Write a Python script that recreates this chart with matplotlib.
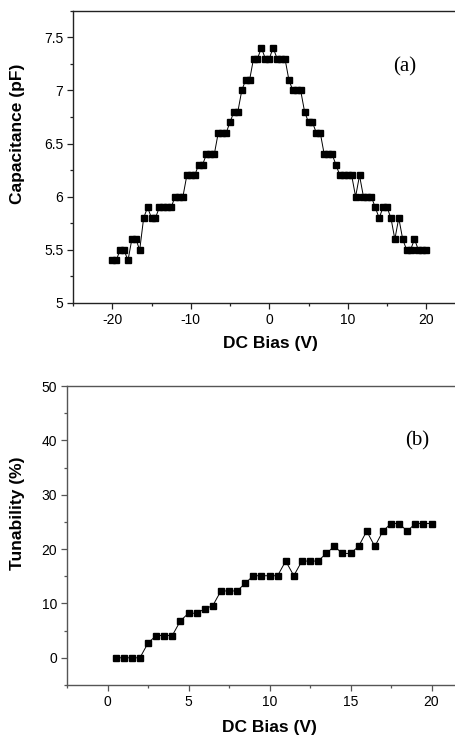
import matplotlib
matplotlib.use("Agg")
import matplotlib.pyplot as plt
from matplotlib.ticker import MultipleLocator

bias_a = [-20, -19.5, -19, -18.5, -18, -17.5, -17, -16.5, -16, -15.5, -15, -14.5,
          -14, -13.5, -13, -12.5, -12, -11.5, -11, -10.5, -10, -9.5, -9, -8.5,
          -8, -7.5, -7, -6.5, -6, -5.5, -5, -4.5, -4, -3.5, -3, -2.5, -2, -1.5,
          -1, -0.5, 0, 0.5, 1, 1.5, 2, 2.5, 3, 3.5, 4, 4.5, 5, 5.5, 6, 6.5,
          7, 7.5, 8, 8.5, 9, 9.5, 10, 10.5, 11, 11.5, 12, 12.5, 13, 13.5, 14,
          14.5, 15, 15.5, 16, 16.5, 17, 17.5, 18, 18.5, 19, 19.5, 20]
capacitance = [5.4, 5.4, 5.5, 5.5, 5.4, 5.6, 5.6, 5.5, 5.8, 5.9, 5.8, 5.8,
               5.9, 5.9, 5.9, 5.9, 6.0, 6.0, 6.0, 6.2, 6.2, 6.2, 6.3, 6.3,
               6.4, 6.4, 6.4, 6.6, 6.6, 6.6, 6.7, 6.8, 6.8, 7.0, 7.1, 7.1, 7.3, 7.3,
               7.4, 7.3, 7.3, 7.4, 7.3, 7.3, 7.3, 7.1, 7.0, 7.0, 7.0, 6.8, 6.7, 6.7, 6.6, 6.6,
               6.4, 6.4, 6.4, 6.3, 6.2, 6.2, 6.2, 6.2, 6.0, 6.2, 6.0, 6.0, 6.0, 5.9, 5.8,
               5.9, 5.9, 5.8, 5.6, 5.8, 5.6, 5.5, 5.5, 5.6, 5.5, 5.5, 5.5]

bias_b = [0.5, 1, 1.5, 2, 2.5, 3, 3.5, 4, 4.5, 5, 5.5, 6, 6.5, 7, 7.5, 8, 8.5,
          9, 9.5, 10, 10.5, 11, 11.5, 12, 12.5, 13, 13.5, 14, 14.5, 15, 15.5,
          16, 16.5, 17, 17.5, 18, 18.5, 19, 19.5, 20]
tunability = [0, 0, 0, 0, 2.7, 4.1, 4.1, 4.1, 6.8, 8.2, 8.2, 9.0, 9.6, 12.3, 12.3, 12.3, 13.7,
              15.1, 15.1, 15.1, 15.1, 17.8, 15.1, 17.8, 17.8, 17.8, 19.2, 20.5, 19.2, 19.2, 20.5,
              23.3, 20.5, 23.3, 24.7, 24.7, 23.3, 24.7, 24.7, 24.7]

plt.rcParams['font.family'] = ['Liberation Sans', 'DejaVu Sans']
plt.rcParams['axes.unicode_minus'] = False

fig = plt.figure(figsize=(4.56, 7.41), dpi=100)

def style(ax, color):
    ax.spines['right'].set_visible(False)
    for s in ('left', 'bottom', 'top'):
        ax.spines[s].set_color(color)
        ax.spines[s].set_linewidth(1.0)
    ax.tick_params(which='both', direction='out', colors=color, labelcolor='black',
                   labelsize=10, top=False, right=False)
    ax.tick_params(which='major', length=4, width=0.9, pad=3)
    ax.tick_params(which='minor', length=2.5, width=0.9)

# Top panel
ax1 = fig.add_axes([73/456, 1-303/741, 392.5/456, (303-10.7)/741])
ax1.plot(bias_a, capacitance, color='black', lw=0.7, marker='s', ms=4.2,
         mfc='black', mec='black')
ax1.set_xlim(-25, 25)
ax1.set_ylim(5, 7.75)
ax1.xaxis.set_minor_locator(MultipleLocator(5))
ax1.yaxis.set_minor_locator(MultipleLocator(0.25))
ax1.set_yticks([5, 5.5, 6, 6.5, 7, 7.5])
ax1.set_yticklabels(['5', '5.5', '6', '6.5', '7', '7.5'])
ax1.set_xticks([-20, -10, 0, 10, 20])
style(ax1, '#222222')
ax1.set_xlabel('DC Bias (V)', fontsize=12.5, fontweight='bold')
ax1.set_ylabel('Capacitance (pF)', fontsize=12.5, fontweight='bold')
ax1.xaxis.set_label_coords(0.502, -0.113)
ax1.yaxis.set_label_coords(-0.122, 0.58)
ax1.text(17.2, 7.22, '(a)', fontsize=15, family='Liberation Serif',
         ha='center', va='center')

# Bottom panel
ax2 = fig.add_axes([67/456, 1-685/741, 405/456, 299/741])
ax2.plot(bias_b, tunability, color='black', lw=0.7, marker='s', ms=4.5,
         mfc='black', mec='black')
ax2.set_xlim(-2.5, 22.5)
ax2.set_ylim(-5, 50)
ax2.xaxis.set_minor_locator(MultipleLocator(2.5))
ax2.yaxis.set_minor_locator(MultipleLocator(5))
ax2.set_xticks([0, 5, 10, 15, 20])
ax2.set_yticks([0, 10, 20, 30, 40, 50])
style(ax2, '#555555')
ax2.set_xlabel('DC Bias (V)', fontsize=12.5, fontweight='bold')
ax2.set_ylabel('Tunability (%)', fontsize=12.5, fontweight='bold')
ax2.xaxis.set_label_coords(0.499, -0.117)
ax2.yaxis.set_label_coords(-0.1037, 0.575)
ax2.text(19.1, 39.9, '(b)', fontsize=15, family='Liberation Serif',
         ha='center', va='center')

fig.savefig('out.png', dpi=100)
